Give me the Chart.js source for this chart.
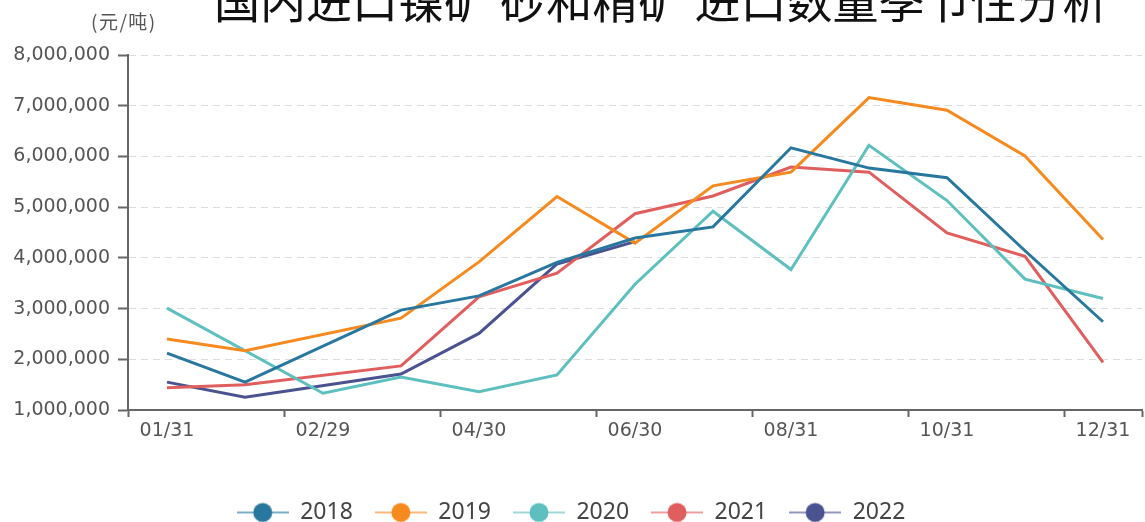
<!DOCTYPE html>
<html>
<head>
<meta charset="utf-8">
<script src="https://cdn.jsdelivr.net/npm/chart.js@4"></script>
<style>
  html, body { margin: 0; padding: 0; background: #fff; }
  #wrap { width: 1145px; height: 522px; position: relative; }
</style>
</head>
<body>
<div id="wrap"><canvas id="chart"></canvas></div>
<script>
const title = "国内进口镍矿 砂和精矿 进口数量季节性分析";
const unit = "(元/吨)";
const categories = ["01/31", "02/28", "02/29", "03/31", "04/30", "05/31", "06/30", "07/31", "08/31", "09/30", "10/31", "11/30", "12/31"];
const years = ["2018", "2019", "2020", "2021", "2022"];
const colors = ["#27779f", "#f68a1e", "#5ebfbf", "#e15e5e", "#4a5390"];

const v2018 = [2120000, 1550000, null, 2970000, 3250000, 3910000, 4390000, 4610000, 6170000, 5770000, 5580000, 4140000, 2740000];
const v2019 = [2400000, 2170000, null, 2810000, 3920000, 5210000, 4290000, 5420000, 5690000, 7160000, 6910000, 6010000, 4360000];
const v2020 = [3010000, null, 1330000, 1650000, 1360000, 1690000, 3480000, 4920000, 3770000, 6220000, 5130000, 3580000, 3200000];
const v2021 = [1440000, 1500000, null, 1870000, 3230000, 3700000, 4870000, 5220000, 5790000, 5690000, 4490000, 4030000, 1940000];
const v2022 = [1550000, 1250000, null, 1710000, 2510000, 3880000, 4320000, null, null, null, null, null, null];
const series = [v2018, v2019, v2020, v2021, v2022];

const yMin = 1000000;
const yMax = 8000000;
const yStep = 1000000;

// legend marker: line with a dot in the middle
function legendIcon(color) {
  const c = document.createElement("canvas");
  c.width = 52;
  c.height = 22;
  const g = c.getContext("2d");
  g.globalAlpha = 0.6;
  g.strokeStyle = color;
  g.lineWidth = 2;
  g.beginPath();
  g.moveTo(0, 11);
  g.lineTo(52, 11);
  g.stroke();
  g.globalAlpha = 1;
  g.fillStyle = color;
  g.beginPath();
  g.arc(26, 11, 9.5, 0, Math.PI * 2);
  g.fill();
  return c;
}
const icons = colors.map(legendIcon);

const headerText = {
  id: "headerText",
  afterDraw(chart) {
    const ctx = chart.ctx;
    ctx.save();
    ctx.fillStyle = "#111";
    ctx.font = '46px "Noto Sans CJK SC"';
    ctx.textBaseline = "middle";
    ctx.textAlign = "left";
    ctx.fillText(title, 214, 1);
    ctx.fillStyle = "#555";
    ctx.font = '19px "Noto Sans CJK SC"';
    ctx.letterSpacing = "1.5px";
    ctx.fillText(unit, 91, 22);
    ctx.restore();
  }
};

const tickMark = (c) => (c.index === undefined || c.index % 2 === 0) ? "#666" : "rgba(0,0,0,0)";

new Chart(document.getElementById("chart"), {
  type: "line",
  data: {
    labels: categories,
    datasets: years.map((y, i) => ({
      label: y,
      data: series[i],
      borderColor: colors[i],
      backgroundColor: colors[i],
      borderWidth: 3,
      pointRadius: 0,
      tension: 0,
      spanGaps: true
    }))
  },
  options: {
    responsive: true,
    maintainAspectRatio: false,
    animation: false,
    layout: { padding: { top: 55, right: 3, left: 0, bottom: -12 } },
    plugins: {
      title: { display: false },
      tooltip: { enabled: false },
      legend: {
        position: "bottom",
        labels: {
          usePointStyle: true,
          pointStyleWidth: 52,
          padding: 22,
          color: "#444",
          font: { family: "Noto Sans", size: 23 },
          generateLabels(chart) {
            const items = Chart.defaults.plugins.legend.labels.generateLabels(chart);
            items.forEach((it) => { it.pointStyle = icons[it.datasetIndex]; });
            return items;
          }
        }
      }
    },
    scales: {
      x: {
        offset: true,
        afterFit(scale) { scale.height = 69; },
        grid: {
          offset: true,
          drawOnChartArea: false,
          tickLength: 7,
          tickWidth: 2,
          tickColor: tickMark
        },
        border: { color: "#666", width: 2 },
        ticks: {
          autoSkip: false,
          maxRotation: 0,
          padding: 3,
          color: "#555",
          font: { family: "DejaVu Sans", size: 19 },
          callback(val, idx) { return idx % 2 === 0 ? categories[idx] : ""; }
        }
      },
      y: {
        min: yMin,
        max: yMax,
        afterFit(scale) { scale.width = 128; },
        grid: {
          color: "#dcdcdc",
          tickColor: "#666",
          tickLength: 10,
          tickWidth: 2,
          tickBorderDash: []
        },
        border: { color: "#666", width: 2, dash: [7, 5] },
        ticks: {
          stepSize: yStep,
          padding: 8,
          color: "#555",
          font: { family: "DejaVu Sans", size: 19 },
          callback(val) { return val.toLocaleString("en-US"); }
        }
      }
    }
  },
  plugins: [headerText]
});
</script>
</body>
</html>
